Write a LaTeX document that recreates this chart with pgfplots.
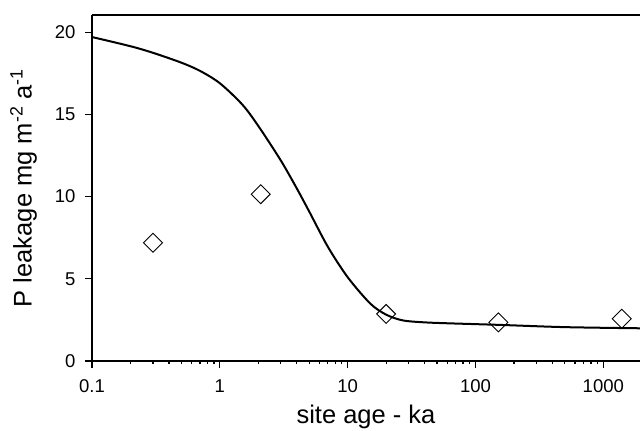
\documentclass[border=0pt]{standalone}
\usepackage{fontspec}
\setmainfont{Liberation Sans}
\usepackage{pgfplots}
\pgfplotsset{compat=1.18}
\begin{document}
\begin{tikzpicture}
\begin{axis}[name=ax,
  scale only axis, width=548pt, height=346pt,
  xmode=log, xmin=0.1, xmax=1937, ymin=0, ymax=21.05,
  axis x line*=bottom, axis y line*=left,
  axis line style={line width=1.3pt, -},
  xtick={0.1,1,10,100,1000}, xticklabels={0.1,1,10,100,1000},
  ytick={0,5,10,15,20},
  minor tick num=0, minor xtick={},
  tick align=outside, major tick length=7pt,
  tick style={line width=1.2pt, black},
  /pgf/number format/assume math mode=true,
  ticklabel style={font=\fontsize{18.5}{20}\selectfont},
  xticklabel style={yshift=-8pt},
  yticklabel style={xshift=-6pt},
  label style={font=\fontsize{25.5}{28}\selectfont},
  xlabel={site age - ka},
  ylabel={P leakage mg m\textsuperscript{-2} a\textsuperscript{-1}},
  xlabel style={at={(axis description cs:0.5,0)}, anchor=base, yshift=-63pt},
  ylabel style={yshift=11pt},
  clip=true,
]
\addplot[black, line width=2pt, smooth] coordinates {
(0.1,19.71) (0.2,19.15) (0.3,18.75) (0.5,18.15) (0.7,17.65) (1.0,16.9)
(1.5,15.6) (2.0,14.3) (3.0,12.2) (4.0,10.5) (5.0,9.1) (7.0,6.95) (10,5.1)
(15,3.5) (20,2.82) (27,2.47) (40,2.35) (63,2.29) (150,2.2) (500,2.06) (1937,1.99)
};
\addplot[only marks, mark=square, mark size=6.7pt, mark options={rotate=45, line width=0.9pt, draw=black}] coordinates {
(0.30,7.19) (2.09,10.15) (20,2.86) (151,2.35) (1396,2.57)
};
\end{axis}
\draw[line width=1.3pt] (ax.north west) -- (ax.north east);
\pgfresetboundingbox
\path[use as bounding box] ([xshift=-92pt,yshift=-70pt]ax.south west) rectangle ([yshift=15pt]ax.north east);
\end{tikzpicture}
\end{document}
